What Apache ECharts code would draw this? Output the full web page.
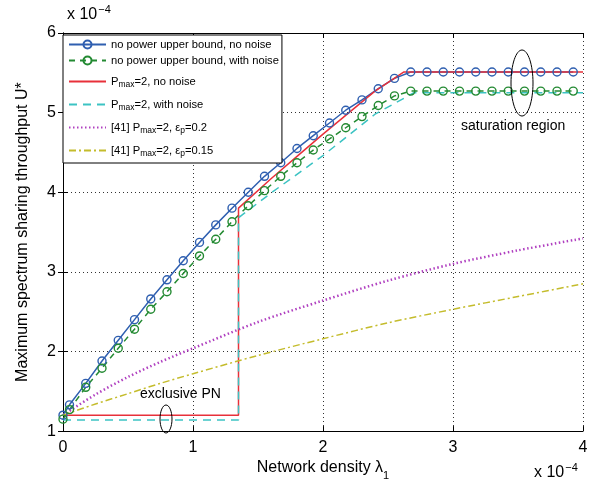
<!DOCTYPE html>
<html>
<head>
<meta charset="utf-8">
<script src="https://cdn.jsdelivr.net/npm/echarts@6/dist/echarts.min.js"></script>
<style>
  html, body { margin: 0; padding: 0; background: #fff; }
  #chart { width: 599px; height: 486px; }
</style>
</head>
<body>
<div id="chart"></div>
<script>
// network density (x 1e-4) where the markers sit
const densityX = [0, 0.05, 0.175, 0.3, 0.425, 0.55, 0.675, 0.8, 0.925, 1.05, 1.175, 1.3, 1.425,
  1.55, 1.675, 1.8, 1.925, 2.05, 2.175, 2.3, 2.425, 2.55, 2.675, 2.8, 2.925, 3.05, 3.175,
  3.3, 3.425, 3.55, 3.675, 3.8, 3.925];
const noBoundNoNoise = [1.20, 1.33, 1.60, 1.88, 2.14, 2.40, 2.66, 2.90, 3.14, 3.37, 3.59, 3.80, 4.00,
  4.20, 4.37, 4.55, 4.71, 4.87, 5.03, 5.16, 5.30, 5.43, 5.51, 5.51, 5.51, 5.51, 5.51,
  5.51, 5.51, 5.51, 5.51, 5.51, 5.51];
const noBoundNoise = [1.15, 1.27, 1.55, 1.79, 2.04, 2.28, 2.53, 2.75, 2.98, 3.20, 3.41, 3.63, 3.83,
  4.02, 4.20, 4.37, 4.53, 4.67, 4.81, 4.95, 5.09, 5.21, 5.27, 5.27, 5.27, 5.27, 5.27,
  5.27, 5.27, 5.27, 5.27, 5.27, 5.27];

// Pmax = 2 curves (jump at the exclusive PN boundary)
const pmaxNoNoiseX = [0, 1.35, 1.35, 1.6, 1.8, 2.0, 2.2, 2.4, 2.62, 4];
const pmaxNoNoiseY = [1.20, 1.20, 3.80, 4.17, 4.45, 4.73, 5.00, 5.27, 5.51, 5.51];
const pmaxNoiseX = [0, 1.35, 1.35, 1.6, 2.0, 2.4, 2.7, 4];
const pmaxNoiseY = [1.14, 1.14, 3.68, 3.99, 4.46, 4.98, 5.25, 5.25];

// reference [41] curves
const refX = [0, 0.25, 0.5, 0.75, 1, 1.5, 2, 2.5, 3, 3.5, 4];
const ref02 = [1.20, 1.46, 1.68, 1.87, 2.04, 2.37, 2.64, 2.89, 3.10, 3.27, 3.42];
const ref015 = [1.20, 1.34, 1.47, 1.60, 1.72, 1.95, 2.16, 2.36, 2.53, 2.69, 2.85];

const xTicks = [0, 1, 2, 3, 4];
const yTicks = [1, 2, 3, 4, 5, 6];

const names = [
  'no power upper bound, no noise',
  'no power upper bound, with noise',
  'Pmax=2, no noise',
  'Pmax=2, with noise',
  '[41] Pmax=2, ep=0.2',
  '[41] Pmax=2, ep=0.15'
];
const legendRich = {
  'no power upper bound, no noise': '{n|no power upper bound, no noise}',
  'no power upper bound, with noise': '{n|no power upper bound, with noise}',
  'Pmax=2, no noise': '{n|P}{s|max}{n|=2, no noise}',
  'Pmax=2, with noise': '{n|P}{s|max}{n|=2, with noise}',
  '[41] Pmax=2, ep=0.2': '{n|[41] P}{s|max}{n|=2, ε}{s|p}{n|=0.2}',
  '[41] Pmax=2, ep=0.15': '{n|[41] P}{s|max}{n|=2, ε}{s|p}{n|=0.15}'
};

const zip = (xs, ys) => xs.map((x, i) => [x, ys[i]]);
const font = 'Liberation Sans, Arial, Helvetica, sans-serif';

const chart = echarts.init(document.getElementById('chart'));

// MATLAB style open markers: line shows through
const hollow = (c) => ({ color: 'rgba(0,0,0,0)', borderColor: c, borderWidth: 1.4 });

const option = {
  animation: false,
  textStyle: { fontFamily: font, color: '#000' },
  grid: { left: 63, right: 16, top: 33, bottom: 53 },
  legend: {
    // plain lines get no marker in the legend
    data: names.map((n, i) => i < 2 ? n : { name: n, itemStyle: { opacity: 0 } }),
    orient: 'vertical',
    left: 63,
    top: 35,
    align: 'left',
    itemWidth: 37,
    itemHeight: 10,
    itemGap: 5,
    padding: [4, 3, 5, 5],
    backgroundColor: '#fff',
    borderColor: '#000',
    borderWidth: 1,
    borderRadius: 0,
    formatter: (name) => legendRich[name],
    textStyle: {
      rich: {
        n: { fontSize: 11.2, lineHeight: 15, fontFamily: font, color: '#000' },
        s: { fontSize: 8.5, fontFamily: font, color: '#000', verticalAlign: 'bottom', lineHeight: 10, padding: [9, 0, 0, 0] }
      }
    }
  },
  xAxis: [{
    type: 'value', min: 0, max: 4, interval: 1,
    name: '{n|Network density λ}{s|1}',
    nameLocation: 'middle', nameGap: 27,
    nameTextStyle: {
      rich: {
        n: { fontSize: 16, fontFamily: font, color: '#000' },
        s: { fontSize: 11, fontFamily: font, color: '#000', verticalAlign: 'bottom', padding: [0, 0, -5, 0] }
      }
    },
    axisLine: { lineStyle: { color: '#000', width: 1 } },
    axisTick: { inside: true, length: 5, lineStyle: { color: '#000' } },
    axisLabel: { fontSize: 16, color: '#000', margin: 8, formatter: (v) => xTicks.includes(v) ? String(v) : '' },
    splitLine: { show: true, lineStyle: { color: '#333', type: [1, 3], width: 1 } }
  }, {
    type: 'value', min: 0, max: 4, interval: 1, position: 'top',
    axisLine: { lineStyle: { color: '#000', width: 1 } },
    axisTick: { inside: true, length: 5, lineStyle: { color: '#000' } },
    axisLabel: { show: false },
    splitLine: { show: false }
  }],
  yAxis: [{
    type: 'value', min: 1, max: 6, interval: 1,
    name: 'Maximum spectrum sharing throughput U*',
    nameLocation: 'middle', nameGap: 32,
    nameTextStyle: { fontSize: 16, color: '#000' },
    axisLine: { lineStyle: { color: '#000', width: 1 } },
    axisTick: { inside: true, length: 5, lineStyle: { color: '#000' } },
    axisLabel: { fontSize: 16, color: '#000', margin: 7, formatter: (v) => yTicks.includes(v) ? String(v) : '' },
    splitLine: { show: true, lineStyle: { color: '#333', type: [1, 3], width: 1 } }
  }, {
    type: 'value', min: 1, max: 6, interval: 1, position: 'right',
    axisLine: { show: true, lineStyle: { color: '#000', width: 1 } },
    axisTick: { show: true, inside: true, length: 5, lineStyle: { color: '#000' } },
    axisLabel: { show: false },
    splitLine: { show: false }
  }],
  series: [
    {
      name: names[0], type: 'line', data: zip(densityX, noBoundNoNoise),
      symbol: 'circle', symbolSize: 8, showAllSymbol: true,
      lineStyle: { color: '#2f5fb0', width: 1.5 },
      itemStyle: hollow('#2f5fb0')
    },
    {
      name: names[1], type: 'line', data: zip(densityX, noBoundNoise),
      symbol: 'circle', symbolSize: 8, showAllSymbol: true,
      lineStyle: { color: '#238a32', width: 1.5, type: [6, 5] },
      itemStyle: hollow('#238a32')
    },
    {
      name: names[2], type: 'line', data: zip(pmaxNoNoiseX, pmaxNoNoiseY),
      symbol: 'none',
      lineStyle: { color: '#e8303a', width: 1.5 },
      itemStyle: { color: '#e8303a' }
    },
    {
      name: names[3], type: 'line', data: zip(pmaxNoiseX, pmaxNoiseY),
      symbol: 'none',
      lineStyle: { color: '#3cc3c3', width: 1.5, type: [8, 6] },
      itemStyle: { color: '#3cc3c3' }
    },
    {
      name: names[4], type: 'line', data: zip(refX, ref02), smooth: 0.3,
      symbol: 'none',
      lineStyle: { color: '#b040c0', width: 2.5, type: [1.5, 2.5] },
      itemStyle: { color: '#b040c0' }
    },
    {
      name: names[5], type: 'line', data: zip(refX, ref015), smooth: 0.3,
      symbol: 'none',
      lineStyle: { color: '#c4bc2c', width: 1.5, type: [7, 3, 2, 3] },
      itemStyle: { color: '#c4bc2c' }
    }
  ],
  graphic: [
    {
      type: 'text', left: 67, top: 4,
      style: {
        text: '{n|x 10}{p|−4}',
        rich: {
          n: { fontSize: 16, fontFamily: font, fill: '#000' },
          p: { fontSize: 11, fontFamily: font, fill: '#000', verticalAlign: 'top', padding: [0, 0, 10, 1] }
        }
      }
    },
    {
      type: 'text', left: 534, top: 462,
      style: {
        text: '{n|x 10}{p|−4}',
        rich: {
          n: { fontSize: 16, fontFamily: font, fill: '#000' },
          p: { fontSize: 11, fontFamily: font, fill: '#000', verticalAlign: 'top', padding: [0, 0, 10, 1] }
        }
      }
    },
    {
      type: 'text', left: 140, top: 387,
      style: { text: 'exclusive PN', fontSize: 14, fontFamily: font, fill: '#000' }
    },
    {
      type: 'ellipse', shape: { cx: 166, cy: 419, rx: 6, ry: 14 },
      style: { fill: 'none', stroke: '#000', lineWidth: 1 }, z: 100
    },
    {
      type: 'text', left: 461, top: 119,
      style: { text: 'saturation region', fontSize: 14, fontFamily: font, fill: '#000' }
    },
    {
      type: 'ellipse', shape: { cx: 522, cy: 83, rx: 11, ry: 33 },
      style: { fill: 'none', stroke: '#000', lineWidth: 1 }, z: 100
    }
  ]
};

chart.setOption(option);
</script>
</body>
</html>
